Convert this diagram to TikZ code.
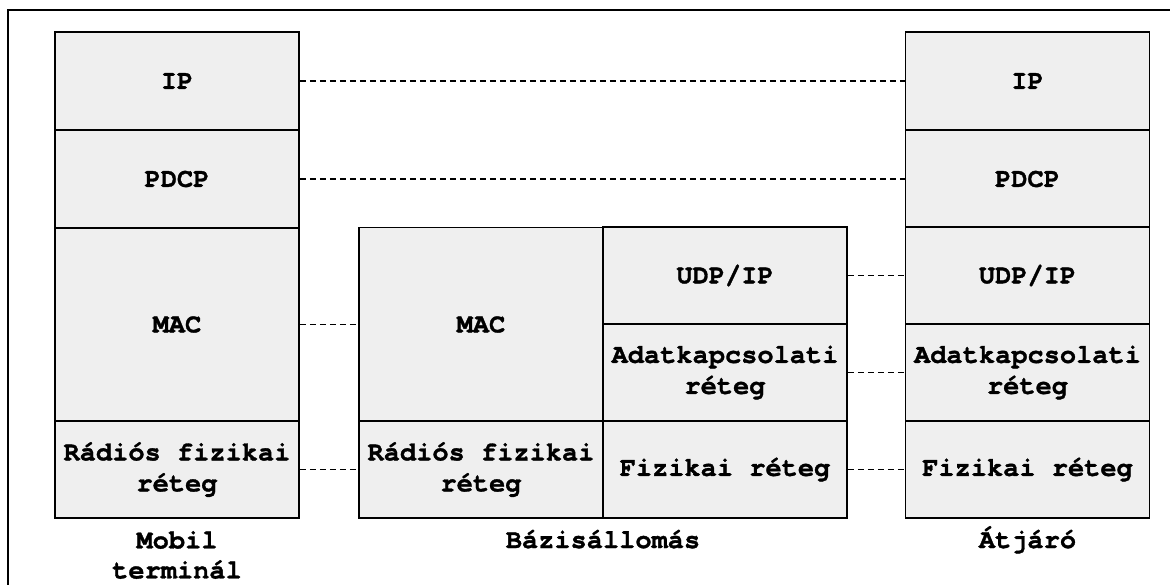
\documentclass[tikz,border=0pt]{standalone}
\usepackage{fontspec}
\setmainfont{texgyrecursor-regular.otf}[
  BoldFont=texgyrecursor-bold.otf,
  BoldFeatures={FakeBold=1.2},
  Ligatures=NoCommon]
\definecolor{cellfill}{HTML}{EFEFEF}
\begin{document}
\begin{tikzpicture}[x=1pt,y=-1pt,
  layer/.style={draw=black,line width=1.8pt,fill=cellfill,inner sep=0pt,
    minimum width=244pt,align=center,
    font=\fontsize{27}{31}\selectfont\bfseries},
  peer/.style={draw=black,line width=1.6pt,dash pattern=on 6pt off 4pt},
  caption/.style={align=center,font=\fontsize{27}{30}\selectfont\bfseries}]
\useasboundingbox (0,0) rectangle (1170,584);
\begin{scope}
  \clip (0,0) rectangle (1170,584);
  \draw[line width=2pt] (8,600) -- (8,10) -- (1180,10);
\end{scope}

% Mobile terminal stack
\node[layer,minimum height=98pt]  (lip)  at (177,81)    {IP};
\node[layer,minimum height=98pt]  (lpd)  at (177,179)   {PDCP};
\node[layer,minimum height=193pt] (lmac) at (177,324.5) {MAC};
\node[layer,minimum height=97pt]  (lrad) at (177,469.5) {Rádiós fizikai\\réteg};

% Base station stack
\node[layer,minimum height=194pt] (mmac) at (481,324.5) {MAC};
\node[layer,minimum height=97pt]  (mrad) at (481,469.5) {Rádiós fizikai\\réteg};
\node[layer,minimum height=97pt]  (mudp) at (725,275.5) {UDP/IP};
\node[layer,minimum height=97pt]  (madk) at (725,372.5) {Adatkapcsolati\\réteg};
\node[layer,minimum height=97pt]  (mfiz) at (725,469.5) {Fizikai réteg};

% Gateway stack
\node[layer,minimum height=98pt]  (rip)  at (1027.5,81)    {IP};
\node[layer,minimum height=98pt]  (rpd)  at (1027.5,179)   {PDCP};
\node[layer,minimum height=97pt]  (rudp) at (1027.5,275.5) {UDP/IP};
\node[layer,minimum height=97pt]  (radk) at (1027.5,372.5) {Adatkapcsolati\\réteg};
\node[layer,minimum height=97pt]  (rfiz) at (1027.5,469.5) {Fizikai réteg};

% Peer-to-peer relations
\draw[peer] (lip.east)  -- (rip.west);
\draw[peer] (lpd.east)  -- (rpd.west);
\draw[peer] (lmac.east) -- (mmac.west);
\draw[peer] (lrad.east) -- (mrad.west);
\draw[peer] (mudp.east) -- (rudp.west);
\draw[peer] (madk.east) -- (radk.west);
\draw[peer] (mfiz.east) -- (rfiz.west);

% Captions
\node[caption] (cmob) at (177,555) {Mobil\\terminál};
\node[caption,anchor=base] (cbs) at (603,548) {Bázisállomás};
\node[caption,anchor=base] (cgw) at (1027.5,548) {Átjáró};
\end{tikzpicture}
\end{document}
